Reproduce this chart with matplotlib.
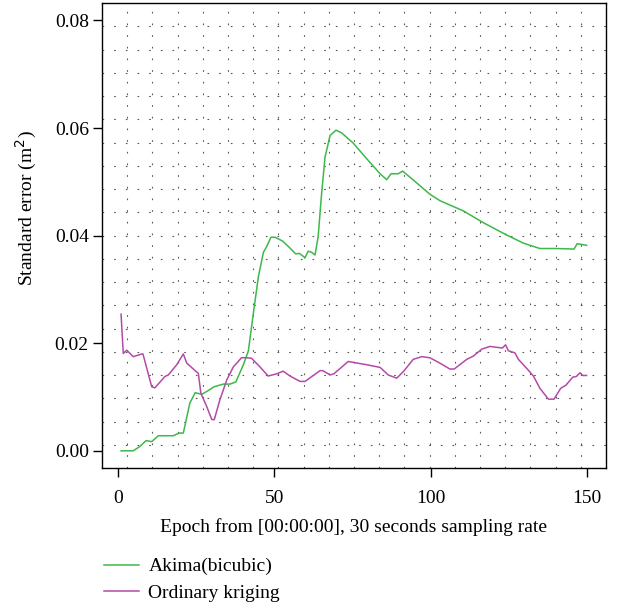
import matplotlib.pyplot as plt

# Akima (bicubic) standard error
akima_epoch = [1, 4.9, 7.0, 9.0, 10.8, 12.9, 17.7, 19.6, 20.9, 23.0, 24.7, 26.8, 28.9, 30.7,
               33.7, 35.8, 37.7, 40.1, 41.7, 43.3, 44.9, 46.5, 47.5, 48.9, 50.2, 52.6, 54.8,
               56.8, 58.0, 59.8, 60.8, 61.9, 63.0, 64.0, 65.1, 66.2, 67.8, 69.7, 71.5, 75.2,
               79.5, 83.8, 85.9, 87.3, 89.6, 91.0, 95.5, 99.7, 102.9, 110.4, 116.8, 124.3,
               129.6, 134.9, 140.3, 145.8, 146.8, 149.8]
akima_se = [0.0000, 0.0000, 0.0008, 0.0019, 0.0017, 0.0028, 0.0028, 0.0033, 0.0033, 0.0089,
            0.0108, 0.0105, 0.0112, 0.0119, 0.0124, 0.0124, 0.0128, 0.0160, 0.0186, 0.0256,
            0.0324, 0.0369, 0.0379, 0.0397, 0.0397, 0.0390, 0.0378, 0.0366, 0.0367, 0.0359,
            0.0371, 0.0369, 0.0364, 0.0398, 0.0478, 0.0546, 0.0586, 0.0596, 0.0591, 0.0572,
            0.0543, 0.0515, 0.0504, 0.0515, 0.0515, 0.0520, 0.0498, 0.0477, 0.0465, 0.0446,
            0.0424, 0.0401, 0.0386, 0.0376, 0.0376, 0.0375, 0.0385, 0.0382]

# Ordinary kriging standard error
krig_epoch = [1, 1.7, 2.8, 4.9, 7.6, 8.0, 10.8, 11.8, 15.0, 16.1, 18.8, 20.9, 22.0, 24.1,
              25.7, 26.5, 28.4, 30.0, 30.8, 32.6, 34.8, 36.9, 39.5, 41.1, 42.7, 45.4, 48.0,
              50.7, 52.8, 55.0, 58.2, 59.8, 64.6, 65.5, 67.8, 69.0, 73.6, 79.5, 83.8, 86.4,
              89.1, 91.2, 94.4, 97.1, 99.7, 102.9, 106.1, 107.5, 111.5, 113.6, 116.3, 118.9,
              122.9, 123.9, 124.8, 126.9, 128.0, 130.7, 132.8, 134.9, 137.6, 139.4, 141.5,
              143.2, 145.4, 146.5, 147.7, 148.6, 149.8]
krig_se = [0.0254, 0.0181, 0.0187, 0.0175, 0.0180, 0.0180, 0.0119, 0.0117, 0.0138, 0.0141,
           0.0160, 0.0180, 0.0163, 0.0152, 0.0144, 0.0107, 0.0082, 0.0058, 0.0058, 0.0095,
           0.0132, 0.0156, 0.0173, 0.0173, 0.0172, 0.0156, 0.0139, 0.0143, 0.0148, 0.0139,
           0.0129, 0.0129, 0.0149, 0.0149, 0.0141, 0.0143, 0.0166, 0.0160, 0.0155, 0.0141,
           0.0135, 0.0147, 0.0170, 0.0175, 0.0173, 0.0163, 0.0152, 0.0152, 0.0170, 0.0176,
           0.0189, 0.0194, 0.0191, 0.0197, 0.0186, 0.0182, 0.0170, 0.0153, 0.0139, 0.0116,
           0.0096, 0.0096, 0.0116, 0.0122, 0.0137, 0.0138, 0.0145, 0.0140, 0.0140]

x_ticks = [0, 50, 100, 150]
y_ticks = [0.00, 0.02, 0.04, 0.06, 0.08]

plt.rcParams['font.family'] = ['Liberation Serif', 'DejaVu Serif']

fig = plt.figure(figsize=(6.39, 6.06), dpi=100)
ax = fig.add_axes([0.1596, 0.2277, 0.7887, 0.767])

xmin, xmax = -5.1, 156.0
ymin, ymax = -0.0032, 0.0832
ax.set_xlim(xmin, xmax)
ax.set_ylim(ymin, ymax)

# dotted grid, 20 divisions of the frame
for i in range(1, 20):
    ax.axvline(xmin + i * (xmax - xmin) / 20, color='#555555', lw=0.8,
               linestyle=(0, (1.5, 9)), zorder=0)
    ax.axhline(ymin + i * (ymax - ymin) / 20, color='#555555', lw=0.8,
               linestyle=(0, (1.5, 9)), zorder=0)

ax.plot(akima_epoch, akima_se, color='#3db84a', lw=1.1, label='Akima(bicubic)')
ax.plot(krig_epoch, krig_se, color='#b44aa8', lw=1.1, label='Ordinary kriging')

ax.set_xticks(x_ticks)
ax.set_yticks(y_ticks)
ax.set_yticklabels([f'{v:.2f}' for v in y_ticks])
ax.tick_params(direction='out', length=6.5, width=1, labelsize=14, colors='black')
ax.tick_params(axis='x', pad=9)
ax.tick_params(axis='y', pad=3)
for s in ax.spines.values():
    s.set_linewidth(1)

ax.set_xlabel('Epoch from [00:00:00], 30 seconds sampling rate', fontsize=14, labelpad=8)
ax.set_ylabel('Standard error (m$^2$)', fontsize=14)
ax.yaxis.set_label_coords(-0.125, 0.56)

fig.legend(loc='upper left', bbox_to_anchor=(0.150, 0.0924), frameon=False, fontsize=14,
           handlelength=1.8, handletextpad=0.5, labelspacing=0.46, borderaxespad=0)

fig.savefig('out.png', dpi=100)
